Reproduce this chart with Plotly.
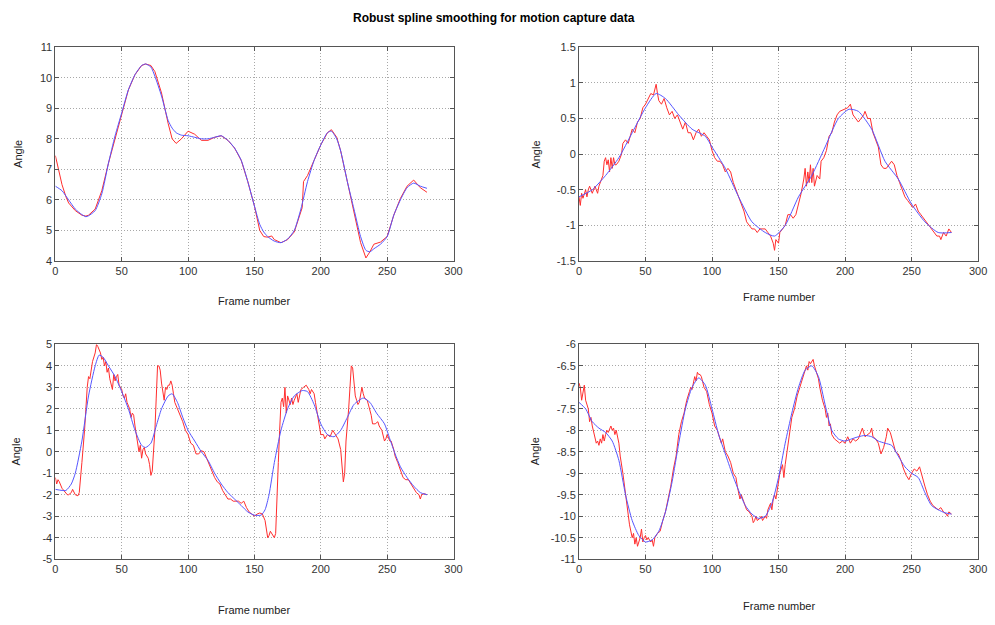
import plotly.graph_objects as go

# ---------------- data ----------------
# Panel 1 (top-left)
p1_raw_f = [0, 3, 5, 8, 10, 15, 20, 23, 25, 30, 35, 40, 45, 50, 55, 60, 65, 68, 72, 75, 80, 85, 88, 91, 95, 100,
            105, 110, 115, 120, 125, 130, 135, 140, 145, 150, 154, 157, 160, 163, 165, 170, 175, 180, 185, 186, 187,
            190, 195, 200, 205, 208, 212, 215, 220, 225, 230, 234, 237, 240, 245, 250, 255, 260, 265, 270, 272, 275, 280]
p1_raw_v = [7.45, 6.9, 6.5, 6.1, 5.9, 5.65, 5.5, 5.47, 5.5, 5.7, 6.3, 7.2, 8.0, 8.8, 9.6, 10.1, 10.4, 10.45, 10.4, 10.2,
            9.5, 8.5, 8.0, 7.85, 8.0, 8.25, 8.15, 7.95, 7.95, 8.05, 8.1, 7.95, 7.7, 7.3, 6.6, 5.8, 5.0, 4.8, 4.78,
            4.82, 4.7, 4.6, 4.7, 4.95, 5.6, 5.75, 6.6, 6.8, 7.3, 7.8, 8.2, 8.3, 8.05, 7.6, 6.6, 5.6, 4.6, 4.1, 4.3,
            4.55, 4.62, 4.8, 5.5, 6.05, 6.45, 6.65, 6.55, 6.4, 6.25]
p1_fit_f = [0, 5, 10, 15, 20, 23, 25, 30, 35, 40, 45, 50, 55, 60, 65, 68, 72, 75, 80, 85, 88, 91, 95, 100, 105, 110,
            115, 120, 125, 130, 135, 140, 145, 150, 154, 157, 160, 165, 170, 175, 180, 185, 190, 195, 200, 205, 208,
            212, 215, 220, 225, 230, 234, 237, 240, 245, 250, 255, 260, 265, 270, 275, 280]
p1_fit_v = [6.45, 6.3, 6.0, 5.7, 5.52, 5.45, 5.48, 5.65, 6.2, 7.2, 8.1, 8.85, 9.6, 10.1, 10.4, 10.45, 10.35, 10.05, 9.4,
            8.6, 8.35, 8.2, 8.12, 8.1, 8.05, 8.0, 8.0, 8.05, 8.1, 7.95, 7.7, 7.3, 6.6, 5.8, 5.2, 4.95, 4.8, 4.65, 4.6,
            4.72, 5.0, 5.7, 6.6, 7.3, 7.8, 8.2, 8.25, 8.0, 7.6, 6.6, 5.7, 4.8, 4.35, 4.3, 4.4, 4.55, 4.8, 5.5, 6.0,
            6.4, 6.55, 6.45, 6.38]

# Panel 2 (top-right)
p2_raw_f = [0, 1, 2, 3, 5, 6, 7, 8, 10, 12, 14, 15, 17, 18, 19, 20, 21, 22, 23, 24, 25, 26, 27, 28, 30, 32, 33, 35,
            37, 39, 40, 42, 44, 46, 48, 50, 52, 54, 56, 58, 59, 60, 62, 64, 66, 68, 70, 72, 74, 76, 78, 80, 82, 84,
            86, 88, 90, 92, 94, 96, 98, 100, 102, 104, 106, 108, 110, 112, 114, 116, 118, 120, 122, 124, 126, 128,
            130, 132, 134, 136, 138, 140, 142, 144, 146, 147, 148, 150, 151, 153, 155, 157, 159, 161, 163, 165, 167,
            169, 170, 171, 172, 173, 174, 175, 176, 177, 179, 181, 182, 184, 186, 188, 190, 192, 194, 196, 198, 200,
            202, 204, 206, 208, 210, 212, 214, 215, 217, 219, 221, 223, 225, 227, 229, 231, 233, 235, 237, 239, 241,
            243, 245, 247, 249, 251, 253, 255, 257, 259, 261, 263, 265, 267, 269, 271, 272, 274, 276, 278, 280]
p2_raw_v = [-0.6, -0.72, -0.55, -0.62, -0.5, -0.6, -0.5, -0.45, -0.55, -0.45, -0.55, -0.45, -0.35, -0.3, -0.1, -0.05,
            -0.15, -0.08, -0.25, -0.05, -0.2, -0.05, -0.15, -0.15, -0.1, 0.0, 0.15, 0.2, 0.15, 0.3, 0.35, 0.3, 0.45,
            0.5, 0.65, 0.7, 0.78, 0.85, 0.83, 0.98, 0.85, 0.75, 0.7, 0.78, 0.65, 0.55, 0.6, 0.5, 0.55, 0.45, 0.35,
            0.45, 0.3, 0.3, 0.2, 0.3, 0.35, 0.25, 0.3, 0.25, 0.2, 0.05, -0.05, -0.1, -0.1, -0.15, -0.25, -0.2, -0.25,
            -0.4, -0.5, -0.6, -0.7, -0.8, -0.95, -1.0, -1.05, -1.05, -1.1, -1.05, -1.05, -1.05, -1.1, -1.15, -1.25,
            -1.35, -1.2, -1.25, -1.1, -1.05, -1.0, -0.85, -0.85, -0.9, -0.85, -0.7, -0.55, -0.35, -0.2, -0.45, -0.25,
            -0.4, -0.15, -0.4, -0.2, -0.45, -0.3, -0.35, -0.1, -0.05, 0.05, 0.25, 0.3, 0.45, 0.55, 0.6, 0.62, 0.63,
            0.65, 0.7, 0.55, 0.5, 0.45, 0.5, 0.55, 0.6, 0.5, 0.5, 0.3, 0.2, 0.1, -0.15, -0.2, -0.2, -0.15, -0.1,
            -0.15, -0.3, -0.4, -0.5, -0.6, -0.65, -0.7, -0.75, -0.7, -0.8, -0.85, -0.9, -0.95, -1.0, -1.05, -1.1,
            -1.15, -1.15, -1.2, -1.1, -1.15, -1.05, -1.1]
p2_fit_f = [0, 10, 20, 30, 40, 50, 58, 65, 75, 85, 95, 100, 110, 120, 130, 140, 147, 155, 165, 175, 185, 195, 203,
            210, 220, 230, 240, 250, 260, 270, 280]
p2_fit_v = [-0.6, -0.5, -0.3, -0.05, 0.3, 0.65, 0.85, 0.78, 0.55, 0.35, 0.25, 0.1, -0.2, -0.6, -0.95, -1.1, -1.15,
            -1.0, -0.6, -0.3, 0.1, 0.5, 0.63, 0.6, 0.35, -0.1, -0.35, -0.7, -0.95, -1.1, -1.1]

# Panel 3 (bottom-left)
p3_raw_f = [0, 1, 2, 3, 5, 7, 8, 9, 10, 12, 13, 15, 17, 18, 20, 22, 24, 25, 26, 28, 30, 31, 32, 34, 35, 36, 37, 38,
            39, 40, 41, 42, 43, 44, 45, 46, 47, 48, 50, 51, 52, 53, 54, 56, 57, 58, 59, 60, 62, 63, 64, 65, 66, 67,
            68, 70, 71, 72, 73, 75, 76, 77, 78, 79, 80, 81, 82, 83, 84, 85, 86, 87, 88, 89, 90, 92, 94, 96, 98, 100,
            102, 104, 106, 108, 110, 112, 114, 116, 118, 120, 122, 124, 126, 128, 130, 132, 134, 136, 138, 140, 142,
            144, 146, 148, 150, 152, 154, 156, 158, 160, 161, 162, 164, 165, 166, 167, 168, 169, 170, 171, 172, 173,
            174, 175, 176, 177, 178, 179, 180, 182, 183, 185, 187, 189, 191, 192, 193, 195, 196, 198, 199, 200, 202,
            203, 205, 207, 209, 211, 213, 215, 216, 217, 218, 219, 221, 222, 223, 224, 225, 226, 227, 228, 229, 230,
            231, 232, 233, 235, 236, 238, 239, 241, 243, 244, 246, 248, 249, 250, 252, 253, 255, 256, 258, 260, 262,
            264, 266, 268, 270, 272, 274, 275, 276, 278, 280]
p3_raw_v = [-1.2, -1.5, -1.3, -1.4, -1.7, -1.85, -1.9, -2.0, -2.0, -1.9, -1.75, -2.0, -2.05, -1.9, -0.5, 1.0, 3.0,
            3.5, 3.4, 4.2, 4.6, 5.0, 4.9, 4.6, 4.3, 4.4, 4.0, 4.2, 3.7, 3.9, 3.4, 3.2, 2.9, 3.6, 3.3, 3.5, 3.6, 3.1,
            2.9, 2.6, 2.5, 2.7, 2.3, 2.0, 1.6, 1.8, 1.7, 1.2, 0.5, 0.0, 0.3, -0.3, 0.1, 0.2, -0.1, -0.3, -0.6, -1.1,
            -0.9, 1.0, 2.5, 4.0, 4.0, 3.8, 3.2, 2.7, 2.4, 3.0, 2.9, 3.1, 3.1, 3.3, 3.1, 2.7, 2.3, 2.0, 1.7, 1.4, 1.0,
            0.8, 0.4, 0.3, -0.1, -0.1, 0.05, 0.0, -0.3, -0.6, -0.9, -1.2, -1.4, -1.5, -1.8, -2.0, -2.2, -2.2, -2.3,
            -2.3, -2.3, -2.4, -2.3, -2.6, -2.8, -2.9, -3.0, -2.9, -2.85, -2.9, -3.2, -4.0, -3.9, -3.7, -3.9, -4.0,
            -3.8, -2.5, -0.5, 1.0, 2.3, 2.5, 2.1, 3.0, 1.8, 2.6, 2.4, 2.2, 2.5, 2.2, 2.4, 2.7, 2.3, 2.9, 3.0, 3.1,
            2.9, 2.7, 2.9, 2.7, 2.3, 1.5, 1.0, 0.8, 0.8, 0.6, 0.8, 0.7, 1.0, 0.8, 0.6, 0.1, -0.7, -1.4, -1.0, 0.5,
            2.0, 3.0, 4.0, 3.9, 3.2, 2.6, 2.4, 2.2, 2.3, 2.7, 3.0, 2.7, 2.5, 2.4, 2.2, 1.7, 1.3, 1.3, 1.4, 1.2, 1.0,
            0.5, 0.6, 0.8, 0.5, 0.5, 0.1, -0.2, -0.5, -0.9, -1.2, -1.3, -1.3, -1.5, -1.7, -1.9, -2.0, -2.2, -2.0,
            -1.95, -2.0]
p3_fit_f = [0, 5, 8, 12, 15, 20, 25, 30, 33, 36, 40, 45, 50, 55, 60, 65, 68, 72, 76, 80, 85, 88, 92, 96, 100, 105,
            110, 115, 120, 125, 130, 135, 140, 145, 150, 155, 158, 161, 165, 170, 175, 180, 186, 190, 195, 200, 205,
            210, 215, 220, 225, 232, 237, 242, 248, 252, 256, 260, 265, 270, 275, 280]
p3_fit_v = [-1.75, -1.8, -1.8, -1.5, -1.0, 0.5, 2.6, 4.0, 4.5, 4.4, 4.0, 3.5, 2.8, 2.0, 1.0, 0.3, 0.2, 0.4, 1.2, 2.0,
            2.6, 2.7, 2.3, 1.6, 1.0, 0.5, 0.0, -0.4, -1.0, -1.5, -1.9, -2.2, -2.5, -2.8, -2.95, -2.95, -2.7, -2.0,
            -0.5, 1.0, 2.0, 2.6, 2.85, 2.8, 2.2, 1.3, 0.8, 0.7, 1.0, 1.6, 2.2, 2.5, 2.3, 1.8, 1.3, 0.6, -0.1, -0.7,
            -1.2, -1.6, -1.9, -2.0]

# Panel 4 (bottom-right)
p4_raw_f = [0, 1, 2, 3, 4, 5, 6, 7, 8, 9, 10, 12, 13, 14, 15, 16, 17, 18, 19, 20, 21, 22, 23, 24, 25, 26, 27, 28, 30,
            31, 33, 35, 37, 38, 40, 41, 42, 43, 44, 45, 46, 47, 48, 49, 50, 51, 52, 54, 55, 56, 57, 59, 61, 63, 65,
            67, 69, 71, 73, 75, 77, 79, 81, 83, 84, 85, 86, 87, 88, 89, 90, 91, 92, 94, 96, 98, 100, 102, 104, 106,
            107, 108, 110, 112, 114, 116, 118, 119, 120, 121, 122, 124, 126, 128, 130, 131, 132, 133, 134, 136, 137,
            138, 140, 141, 142, 144, 145, 146, 147, 148, 150, 151, 153, 154, 155, 157, 159, 160, 162, 164, 166, 168,
            170, 171, 172, 173, 174, 175, 176, 177, 178, 180, 181, 182, 183, 185, 186, 187, 188, 189, 190, 192, 194,
            196, 198, 200, 202, 204, 206, 208, 210, 212, 213, 215, 217, 219, 220, 221, 223, 225, 227, 229, 231, 232,
            234, 236, 238, 240, 242, 244, 246, 248, 250, 252, 254, 256, 258, 260, 262, 264, 266, 268, 270, 272, 274,
            276, 277, 278, 280]
p4_raw_v = [-6.9, -7.0, -7.3, -7.1, -6.95, -7.3, -7.4, -7.5, -7.8, -7.7, -7.9, -8.2, -8.3, -8.25, -8.35, -8.2, -8.3,
            -8.1, -8.25, -8.1, -8.0, -8.05, -7.95, -7.9, -8.0, -7.95, -8.1, -8.0, -8.3, -8.6, -9.0, -9.5, -9.9, -10.2,
            -10.5, -10.4, -10.65, -10.5, -10.7, -10.6, -10.5, -10.3, -10.6, -10.5, -10.45, -10.55, -10.5, -10.6,
            -10.55, -10.7, -10.5, -10.4, -10.35, -10.1, -9.9, -9.6, -9.3, -8.9, -8.6, -8.1, -7.8, -7.6, -7.3, -7.1,
            -7.0, -7.05, -6.9, -6.75, -6.85, -6.65, -6.7, -6.7, -6.75, -7.0, -7.1, -7.4, -7.6, -7.9, -8.0, -8.2,
            -8.3, -8.2, -8.5, -8.6, -8.75, -9.0, -9.1, -9.3, -9.5, -9.6, -9.5, -9.7, -9.85, -9.9, -10.0, -10.15,
            -10.1, -10.0, -10.1, -10.05, -10.0, -10.1, -10.0, -10.05, -9.85, -9.7, -9.85, -9.6, -9.5, -9.6, -9.2,
            -9.0, -8.8, -9.1, -8.8, -8.4, -8.0, -7.7, -7.5, -7.2, -7.0, -6.8, -6.6, -6.5, -6.6, -6.4, -6.45, -6.4,
            -6.35, -6.5, -6.6, -6.8, -7.0, -7.2, -7.3, -7.5, -7.7, -7.6, -7.9, -7.85, -8.1, -8.2, -8.25, -8.3, -8.25,
            -8.3, -8.15, -8.3, -8.2, -8.25, -8.2, -8.05, -7.95, -8.15, -8.1, -8.05, -7.95, -8.15, -8.2, -8.3, -8.55,
            -8.4, -8.15, -7.95, -8.05, -8.3, -8.5, -8.55, -8.7, -8.9, -9.05, -9.15, -9.0, -8.9, -8.95, -8.85, -9.1,
            -9.3, -9.5, -9.65, -9.75, -9.8, -9.85, -9.8, -9.9, -9.95, -10.0, -9.9, -9.95]
p4_fit_f = [0, 5, 10, 15, 20, 25, 30, 35, 40, 45, 50, 55, 60, 65, 70, 75, 80, 85, 90, 95, 100, 105, 110, 115, 120,
            125, 130, 135, 140, 145, 150, 155, 160, 165, 170, 175, 180, 185, 190, 195, 200, 205, 210, 215, 220, 225,
            230, 235, 240, 245, 250, 255, 260, 265, 270, 275, 280]
p4_fit_v = [-7.35, -7.5, -7.8, -7.95, -8.05, -8.25, -8.7, -9.5, -10.1, -10.45, -10.6, -10.55, -10.35, -9.9, -9.2,
            -8.3, -7.5, -7.0, -6.78, -6.95, -7.5, -8.1, -8.55, -9.0, -9.4, -9.75, -9.95, -10.05, -10.0, -9.7, -9.1,
            -8.3, -7.6, -7.0, -6.6, -6.5, -6.75, -7.4, -8.0, -8.2, -8.25, -8.2, -8.15, -8.12, -8.15, -8.25, -8.3,
            -8.35, -8.6, -8.85, -9.0, -9.1, -9.45, -9.75, -9.85, -9.92, -9.95]

x_ticks = [0, 50, 100, 150, 200, 250, 300]
y_ranges = [[4, 11], [-1.5, 1.5], [-5, 5], [-11, -6]]
y_ticks = [
    [4, 5, 6, 7, 8, 9, 10, 11],
    [-1.5, -1, -0.5, 0, 0.5, 1, 1.5],
    [-5, -4, -3, -2, -1, 0, 1, 2, 3, 4, 5],
    [-11, -10.5, -10, -9.5, -9, -8.5, -8, -7.5, -7, -6.5, -6],
]
title_text = "Robust spline smoothing for motion capture data"
x_label = "Frame number"
y_label = "Angle"


def fmt(v):
    # plain ASCII hyphen for negatives, as in the reference
    return ("%g" % v)


# ---------------- figure ----------------
W, H = 995, 625
# panel pixel boxes: (left, top, right, bottom)
boxes = [(53, 42, 456, 260), (583, 42, 987, 260), (53, 345, 456, 564), (583, 345, 987, 564)]
xlab_y = [301, 297, 616, 612]
ylab_x = [15, 540, 13, 538]

raw = [(p1_raw_f, p1_raw_v), (p2_raw_f, p2_raw_v), (p3_raw_f, p3_raw_v), (p4_raw_f, p4_raw_v)]
fit = [(p1_fit_f, p1_fit_v), (p2_fit_f, p2_fit_v), (p3_fit_f, p3_fit_v), (p4_fit_f, p4_fit_v)]

RED = "rgb(255,45,45)"
BLUE = "rgb(85,85,255)"
FONT = "Liberation Sans, Arial, sans-serif"

fig = go.Figure()
annotations = []
for i in range(4):
    sfx = "" if i == 0 else str(i + 1)
    xa, ya = "x" + sfx, "y" + sfx
    fig.add_trace(go.Scatter(x=raw[i][0], y=raw[i][1], mode="lines", xaxis=xa, yaxis=ya,
                             line=dict(color=RED, width=1), showlegend=False, hoverinfo="skip"))
    fig.add_trace(go.Scatter(x=fit[i][0], y=fit[i][1], mode="lines", xaxis=xa, yaxis=ya,
                             line=dict(color=BLUE, width=1, shape="spline", smoothing=0.6),
                             showlegend=False, hoverinfo="skip"))
    l, t, r, b = boxes[i]
    axcommon = dict(showline=True, linecolor="#555555", linewidth=1, mirror="ticks", ticks="inside",
                    ticklen=4, tickcolor="#555555", showgrid=True, gridcolor="#a8a8a8", griddash="1px,2px",
                    gridwidth=1, zeroline=False, tickfont=dict(family=FONT, size=11, color="#333333"))
    fig.layout["xaxis" + sfx] = dict(domain=[l / W, r / W], range=[0, 300], tickvals=x_ticks,
                                     ticktext=[fmt(v) for v in x_ticks], anchor=ya, **axcommon)
    fig.layout["yaxis" + sfx] = dict(domain=[1 - b / H, 1 - t / H], range=y_ranges[i], tickvals=y_ticks[i],
                                     ticktext=[fmt(v) for v in y_ticks[i]], anchor=xa, **axcommon)
    annotations.append(dict(text=x_label, x=(l + r) / 2 / W, y=1 - xlab_y[i] / H, xref="paper", yref="paper",
                            showarrow=False, xanchor="center", yanchor="middle",
                            font=dict(family=FONT, size=11, color="#222222")))
    annotations.append(dict(text=y_label, x=ylab_x[i] / W, y=1 - (t + b) / 2 / H, xref="paper", yref="paper",
                            showarrow=False, xanchor="center", yanchor="middle", textangle=-90,
                            font=dict(family=FONT, size=11, color="#222222")))

annotations.append(dict(text="<b>" + title_text + "</b>", x=497 / W, y=1 - 12 / H, xref="paper", yref="paper",
                        showarrow=False, xanchor="center", yanchor="middle",
                        font=dict(family=FONT, size=12, color="#000000")))

fig.update_layout(width=W, height=H, margin=dict(l=0, r=0, t=0, b=0), paper_bgcolor="white",
                  plot_bgcolor="white", annotations=annotations, showlegend=False)

fig.write_html("out.html")
